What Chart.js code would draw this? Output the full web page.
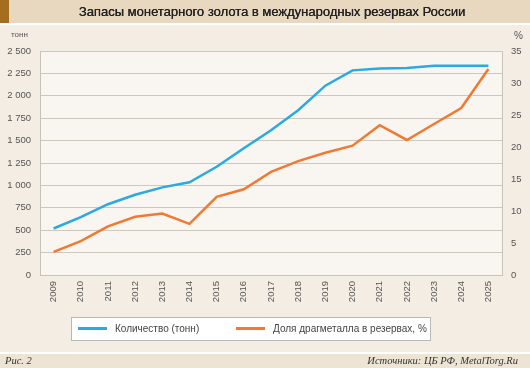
<!DOCTYPE html>
<html>
<head>
    <meta charset="utf-8">
    <title>Запасы монетарного золота</title>
    <script src="https://cdn.jsdelivr.net/npm/chart.js"></script>
    <style>
        html, body { margin: 0; padding: 0; background: #f4ede3; }
        #wrap { position: relative; width: 530px; height: 368px; }
    </style>
</head>
<body>
    <div id="wrap">
        <canvas id="chart" width="530" height="368"></canvas>
    </div>

    <script>
        // Données
        const years = ['2009', '2010', '2011', '2012', '2013', '2014', '2015', '2016', '2017',
                       '2018', '2019', '2020', '2021', '2022', '2023', '2024', '2025'];
        const goldTonnes = [519, 647, 790, 895, 978, 1035, 1208, 1415, 1615,
                            1839, 2113, 2284, 2306, 2310, 2335, 2335, 2335];
        const goldShare = [3.6, 5.3, 7.6, 9.1, 9.6, 8.0, 12.2, 13.4, 16.1,
                           17.8, 19.1, 20.2, 23.4, 21.1, 23.6, 26.1, 32.2];
        const tonnesTicks = [0, 250, 500, 750, 1000, 1250, 1500, 1750, 2000, 2250, 2500];
        const shareTicks = [0, 5, 10, 15, 20, 25, 30, 35];

        const seriesLabels = ['Количество (тонн)', 'Доля драгметалла в резервах, %'];
        const seriesColors = ['#29aae1', '#f07a32'];

        const titleText = 'Запасы монетарного золота в международных резервах России';
        const leftUnit = 'тонн';
        const rightUnit = '%';
        const footLeft = 'Рис. 2';
        const footRight = 'Источники: ЦБ РФ, MetalTorg.Ru';

        const tickFont = { family: "'Liberation Sans', Arial, sans-serif", size: 9.5 };
        const tickColor = '#555';

        function fmt(v) {
            return String(v).replace(/\B(?=(\d{3})+(?!\d))/g, ' ');
        }

        // Décor : fonds, titre, pied, légende
        const decor = {
            id: 'decor',
            beforeDraw(chart) {
                const ctx = chart.ctx;
                const a = chart.chartArea;
                ctx.save();
                ctx.fillStyle = '#f4ede3';
                ctx.fillRect(0, 0, 530, 368);
                // bandeau titre
                ctx.fillStyle = '#e8d8bf';
                ctx.fillRect(0, 0, 530, 23);
                ctx.fillStyle = '#a36f1e';
                ctx.fillRect(0, 0, 9, 23);
                ctx.fillStyle = '#ffffff';
                ctx.fillRect(0, 23, 530, 2);
                // pied
                ctx.fillStyle = '#ffffff';
                ctx.fillRect(0, 352, 530, 2);
                ctx.fillStyle = '#eee4d4';
                ctx.fillRect(0, 354, 530, 14);
                // zone de tracé
                ctx.fillStyle = '#f9f6f1';
                ctx.fillRect(a.left, a.top, a.right - a.left, a.bottom - a.top);
                ctx.restore();
            },
            afterDraw(chart) {
                const ctx = chart.ctx;
                ctx.save();
                ctx.fillStyle = '#222';
                ctx.font = "13px 'Liberation Sans', Arial, sans-serif";
                ctx.textAlign = 'center';
                ctx.textBaseline = 'middle';
                ctx.fillText(titleText, 272, 12.5);
                ctx.fillText(titleText, 272.3, 12.5);

                ctx.fillStyle = '#555';
                ctx.font = "8px 'Liberation Sans', Arial, sans-serif";
                ctx.textAlign = 'left';
                ctx.fillText(leftUnit, 11, 35);
                ctx.font = "10px 'Liberation Sans', Arial, sans-serif";
                ctx.fillText(rightUnit, 514, 36);

                ctx.fillStyle = '#333';
                ctx.font = "italic 10.5px 'Liberation Serif', 'DejaVu Serif', serif";
                ctx.textAlign = 'left';
                ctx.fillText(footLeft, 5, 361.5);
                ctx.textAlign = 'right';
                ctx.fillText(footRight, 518, 361.5);

                // légende
                ctx.fillStyle = '#ffffff';
                ctx.fillRect(72, 317, 359, 23);
                ctx.strokeStyle = '#b8b8b8';
                ctx.lineWidth = 1;
                ctx.strokeRect(71.5, 317.5, 359, 23);
                const lx = [78, 236];
                chart.data.datasets.forEach((ds, i) => {
                    ctx.strokeStyle = ds.borderColor;
                    ctx.lineWidth = 3;
                    ctx.beginPath();
                    ctx.moveTo(lx[i], 328.5);
                    ctx.lineTo(lx[i] + 29, 328.5);
                    ctx.stroke();
                    ctx.fillStyle = '#444';
                    ctx.font = "10px 'Liberation Sans', Arial, sans-serif";
                    ctx.textAlign = 'left';
                    ctx.textBaseline = 'middle';
                    ctx.fillText(ds.label, lx[i] + 37, 329);
                });
                ctx.restore();
            }
        };

        const ctx = document.getElementById('chart').getContext('2d');
        const chart = new Chart(ctx, {
            type: 'line',
            data: {
                labels: years,
                datasets: [
                    {
                        label: seriesLabels[0],
                        data: goldTonnes,
                        yAxisID: 'y',
                        borderColor: seriesColors[0],
                        borderWidth: 2.5,
                        pointRadius: 0,
                        tension: 0,
                        fill: false
                    },
                    {
                        label: seriesLabels[1],
                        data: goldShare,
                        yAxisID: 'y1',
                        borderColor: seriesColors[1],
                        borderWidth: 2.5,
                        pointRadius: 0,
                        tension: 0,
                        fill: false
                    }
                ]
            },
            options: {
                responsive: false,
                animation: false,
                layout: { padding: { top: 51, left: 0, right: 0, bottom: 0 } },
                plugins: {
                    legend: { display: false },
                    tooltip: { enabled: false }
                },
                scales: {
                    x: {
                        offset: true,
                        grid: { display: false, drawTicks: false },
                        border: { color: '#c8c2b9', width: 1 },
                        ticks: {
                            font: tickFont,
                            color: tickColor,
                            minRotation: 90,
                            maxRotation: 90,
                            autoSkip: false,
                            padding: 6
                        },
                        afterFit(scale) { scale.height = 93; }
                    },
                    y: {
                        position: 'left',
                        min: 0,
                        max: 2500,
                        afterBuildTicks(scale) { scale.ticks = tonnesTicks.map(v => ({ value: v })); },
                        grid: { color: '#cdc7be', lineWidth: 1, drawTicks: false },
                        border: { color: '#c8c2b9', width: 1 },
                        ticks: {
                            font: tickFont,
                            color: tickColor,
                            padding: 9,
                            callback: v => fmt(v)
                        },
                        afterFit(scale) { scale.width = 40; }
                    },
                    y1: {
                        position: 'right',
                        min: 0,
                        max: 35,
                        afterBuildTicks(scale) { scale.ticks = shareTicks.map(v => ({ value: v })); },
                        grid: { display: false, drawTicks: false },
                        border: { color: '#c8c2b9', width: 1 },
                        ticks: {
                            font: tickFont,
                            color: tickColor,
                            padding: 9
                        },
                        afterFit(scale) { scale.width = 28; }
                    }
                }
            },
            plugins: [decor]
        });
    </script>
</body>
</html>
